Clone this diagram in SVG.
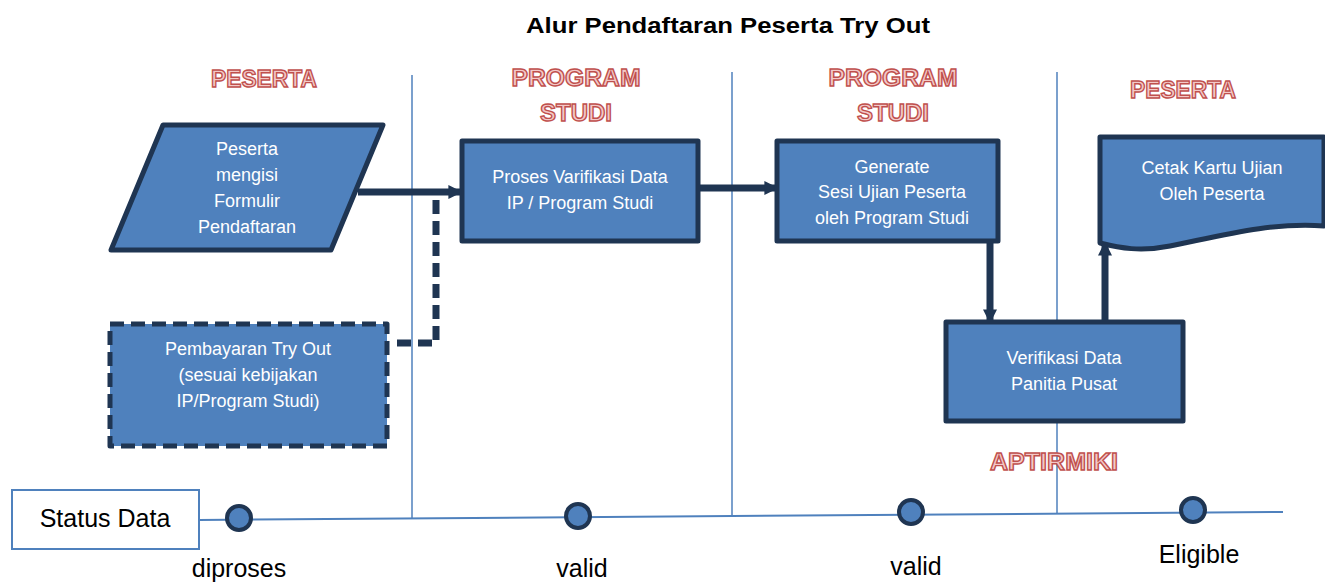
<svg xmlns="http://www.w3.org/2000/svg" width="1325" height="584" viewBox="0 0 1325 584">
<defs>
<style>
.title{font-family:"Liberation Sans",Arial,sans-serif;font-weight:bold;font-size:22px;fill:#000;text-anchor:middle}
.hdr{font-family:"Liberation Sans",Arial,sans-serif;font-weight:bold;font-size:24px;fill:#f3c9c8;stroke:#c0504d;stroke-width:1.4;text-anchor:middle}
.node{fill:#4f81bd;stroke:#1f3552;stroke-width:5;stroke-linejoin:round}
.dash{stroke-dasharray:14 7}
.nt{font-family:"Liberation Sans",Arial,sans-serif;font-size:18px;fill:#fff;text-anchor:middle}
.lane{stroke:#4f81bd;stroke-width:1.5;fill:none}
.conn{stroke:#1f3552;stroke-width:7;fill:none}
.lbl{font-family:"Liberation Sans",Arial,sans-serif;font-size:25px;fill:#000;text-anchor:middle}
.dot{fill:#4f81bd;stroke:#1f3552;stroke-width:4}
</style>
<marker id="ah" viewBox="0 0 10 10" refX="9" refY="5" markerWidth="14" markerHeight="14" markerUnits="userSpaceOnUse" orient="auto">
<path d="M0,0 L10,5 L0,10 Z" fill="#1f3552"/>
</marker>
</defs>
<rect width="1325" height="584" fill="#fff"/>
<text class="title" x="728" y="33" textLength="404" lengthAdjust="spacingAndGlyphs">Alur Pendaftaran Peserta Try Out</text>

<g id="lanes">
<line class="lane" x1="412" y1="75" x2="412" y2="519"/>
<line class="lane" x1="732" y1="72" x2="732" y2="516"/>
<line class="lane" x1="1057" y1="72" x2="1057" y2="513"/>
</g>

<g id="headers">
<text class="hdr" x="264" y="87" textLength="106" lengthAdjust="spacingAndGlyphs">PESERTA</text>
<text class="hdr" x="576" y="86" textLength="129" lengthAdjust="spacingAndGlyphs">PROGRAM</text>
<text class="hdr" x="576" y="121">STUDI</text>
<text class="hdr" x="893" y="86" textLength="129" lengthAdjust="spacingAndGlyphs">PROGRAM</text>
<text class="hdr" x="893" y="121">STUDI</text>
<text class="hdr" x="1183" y="98" textLength="106" lengthAdjust="spacingAndGlyphs">PESERTA</text>
<text class="hdr" x="1054" y="470" textLength="128" lengthAdjust="spacingAndGlyphs">APTIRMIKI</text>
</g>

<g id="connectors">
<line class="conn" x1="358" y1="192" x2="461" y2="192" marker-end="url(#ah)"/>
<path class="conn dash" d="M397,343 H436 V192" stroke-width="5" stroke-dasharray="14 7"/>
<line class="conn" x1="699" y1="188" x2="777" y2="188" marker-end="url(#ah)"/>
<line class="conn" x1="990" y1="242" x2="990" y2="322" marker-end="url(#ah)"/>
<line class="conn" x1="1105" y1="322" x2="1105" y2="243" marker-end="url(#ah)"/>
</g>

<g id="n-formulir">
<polygon class="node" points="163,125 383,125 331,250 111,250"/>
<text class="nt" x="247" y="155">Peserta</text>
<text class="nt" x="247" y="181">mengisi</text>
<text class="nt" x="247" y="207">Formulir</text>
<text class="nt" x="247" y="233">Pendaftaran</text>
</g>

<g id="n-pembayaran">
<rect class="node dash" x="110" y="324" width="277" height="122"/>
<text class="nt" x="248" y="355">Pembayaran Try Out</text>
<text class="nt" x="248" y="381">(sesuai kebijakan</text>
<text class="nt" x="248" y="407">IP/Program Studi)</text>
</g>

<g id="n-verifikasi-prodi">
<rect class="node" x="462" y="141" width="236" height="100"/>
<text class="nt" x="580" y="183">Proses Varifikasi Data</text>
<text class="nt" x="580" y="209">IP / Program Studi</text>
</g>

<g id="n-generate">
<rect class="node" x="777" y="141" width="221" height="100"/>
<text class="nt" x="892" y="173">Generate</text>
<text class="nt" x="892" y="198">Sesi Ujian Peserta</text>
<text class="nt" x="892" y="224">oleh Program Studi</text>
</g>

<g id="n-verifikasi-pusat">
<rect class="node" x="946" y="322" width="237" height="99"/>
<text class="nt" x="1064" y="364">Verifikasi Data</text>
<text class="nt" x="1064" y="390">Panitia Pusat</text>
</g>

<g id="n-cetak">
<path class="node" d="M1100,137 H1324 V226 C1270,222 1220,236 1170,246 C1140,252 1120,248 1100,243 Z"/>
<text class="nt" x="1212" y="174">Cetak Kartu Ujian</text>
<text class="nt" x="1212" y="200">Oleh Peserta</text>
</g>

<g id="timeline">
<rect x="12" y="490" width="187" height="59" fill="#fff" stroke="#4f81bd" stroke-width="2"/>
<text x="105" y="527" font-family="'Liberation Sans',Arial,sans-serif" font-size="25" text-anchor="middle">Status Data</text>
<line x1="199" y1="520" x2="1283" y2="512" stroke="#4f81bd" stroke-width="2"/>
<circle class="dot" cx="239" cy="518" r="12"/>
<circle class="dot" cx="578" cy="516" r="12"/>
<circle class="dot" cx="911" cy="512" r="12"/>
<circle class="dot" cx="1193" cy="510" r="12"/>
<text class="lbl" x="239" y="577">diproses</text>
<text class="lbl" x="582" y="577">valid</text>
<text class="lbl" x="916" y="575">valid</text>
<text class="lbl" x="1199" y="563">Eligible</text>
</g>
</svg>
